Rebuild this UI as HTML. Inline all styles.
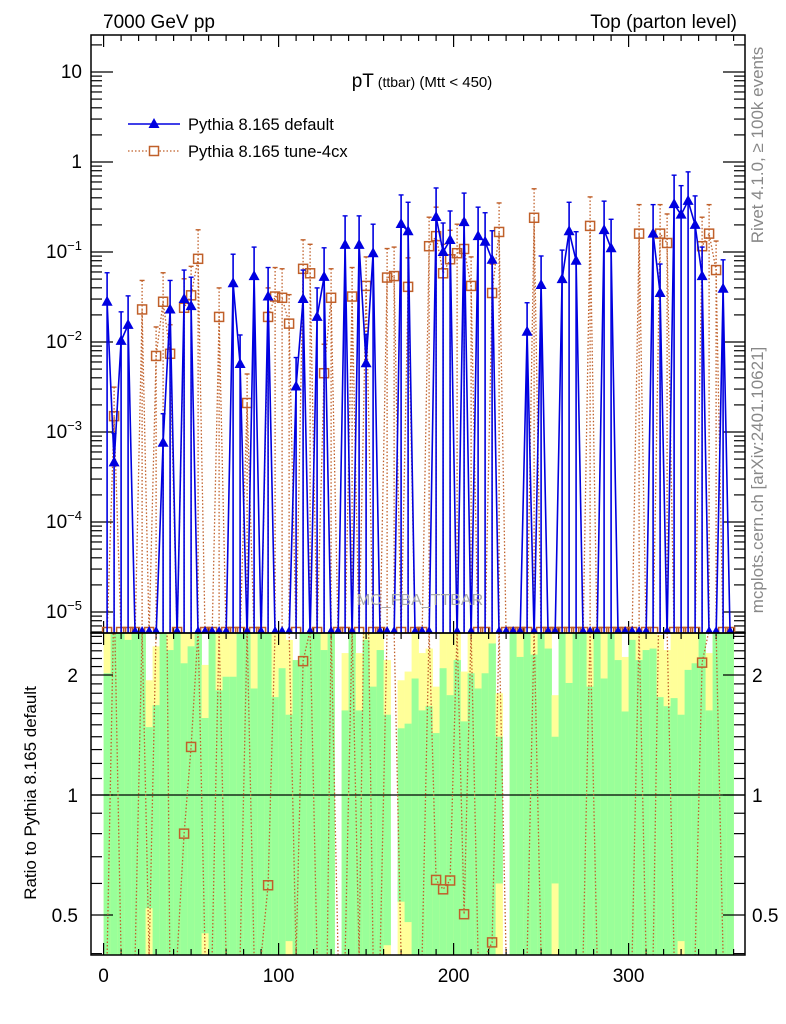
<!DOCTYPE html>
<html><head><meta charset="utf-8"><style>
html,body{margin:0;padding:0;background:#fff;width:786px;height:1024px;overflow:hidden;}
svg{display:block;font-family:"Liberation Sans",sans-serif;overflow:hidden;}
</style></head><body>
<svg id="chart" width="786" height="1024" viewBox="0 0 786 1024">
<defs>
<clipPath id="cm"><rect x="91" y="35" width="654" height="598"/></clipPath>
<clipPath id="cr"><rect x="91" y="633" width="654" height="322"/></clipPath>
</defs>
<g id="bands" clip-path="url(#cr)"></g>
<g id="ticks"></g>
<line x1="91" y1="795" x2="745" y2="795" stroke="#000" stroke-width="1.2"/>
<g id="mainSeries" clip-path="url(#cm)"></g>
<g id="ratioSeries" clip-path="url(#cr)"></g>
<rect x="91" y="35" width="654" height="598" fill="none" stroke="#000" stroke-width="1.5"/>
<rect x="91" y="633" width="654" height="322" fill="none" stroke="#000" stroke-width="1.5"/>
<text x="103" y="28" font-size="19">7000 GeV pp</text>
<text x="737" y="28" font-size="19" text-anchor="end">Top (parton level)</text>
<text x="422" y="87" text-anchor="middle"><tspan font-size="19">pT</tspan><tspan font-size="14"> (ttbar)</tspan><tspan font-size="15"> (Mtt &lt; 450)</tspan></text>
<g>
<g>
<line x1="128" y1="124" x2="180" y2="124" stroke="#0000e0" stroke-width="1.5"/>
<polygon points="154,118 148.5,128 159.5,128" fill="#0000e0"/>
<text x="188" y="130" font-size="16.5">Pythia 8.165 default</text></g>
<g>
<line x1="128" y1="151" x2="180" y2="151" stroke="#c0602a" stroke-width="1.3" stroke-dasharray="1.5,2"/>
<rect x="149.5" y="146.5" width="9" height="9" fill="#fff" stroke="#c0602a" stroke-width="1.5"/>
<text x="188" y="157" font-size="16.5">Pythia 8.165 tune-4cx</text></g>
</g>
<text x="420" y="605" font-size="16" fill="#aaa" text-anchor="middle">MC_FBA_TTBAR</text>
<text transform="translate(763,145) rotate(-90)" font-size="17" fill="#888" text-anchor="middle">Rivet 4.1.0, ≥ 100k events</text>
<text transform="translate(763,480) rotate(-90)" font-size="17" fill="#888" text-anchor="middle">mcplots.cern.ch [arXiv:2401.10621]</text>
<text transform="translate(36,793) rotate(-90)" font-size="17" text-anchor="middle">Ratio to Pythia 8.165 default</text>
<g id="labels"></g>
</svg>
<script>
const blueVals=[0.028,4.6e-4,0.0103,0.0155,0,0,0,0,7.6e-4,0.023,
0,0.030,0.025,0,0,0,0,0,0.045,0.0057,
0,0.054,0,0.032,0,0,0,0.0032,0.030,0,
0.019,0.053,0,0,0.12,0,0.12,0.0058,0.097,0,
0,0,0.205,0.17,0,0,0,0.245,0.10,0.136,
0,0.215,0,0.15,0.13,0.082,0,0,0,0,
0.013,0,0.043,0,0,0.05,0.17,0.08,0,0,
0,0.175,0.11,0,0,0,0,0,0.16,0.035,
0,0.34,0.26,0.37,0.2,0.054,0,0,0.039,0];
const redVals=[0,1.5e-3,0,0,0,0.023,0,0.007,0.028,0.0074,
0,0.024,0.033,0.084,0,0,0.019,0,0,0,
0.0021,0,0,0.019,0.032,0.031,0.016,0,0.065,0.058,
0,0.0045,0.031,0,0,0.032,0,0.042,0,0,
0.052,0.054,0,0.041,0,0,0.116,0.15,0.058,0.083,
0.097,0.108,0.042,0,0,0.035,0.167,0,0,0,
0,0.24,0,0,0,0,0,0,0,0.195,
0,0,0,0,0,0,0.16,0,0,0.16,
0.126,0,0,0,0,0.116,0.16,0.063,0,0];
const bandGreenTop=[2.02,3,3,2.45,3,3,1.48,1.68,3,2.31,
3,2.14,2.36,3,1.56,3,1.83,1.98,1.98,3,
3,1.85,3,3,1.76,2.08,1.59,2.18,3,3,
3,2.31,3,0,1.63,3,1.63,2.45,1.87,2.31,
1.59,0,1.47,1.51,1.96,1.63,1.67,1.43,2.08,1.78,
2.18,1.53,2.02,1.85,2.02,2.40,1.40,0,3,2.22,
3,2.25,3,2.33,1.40,3,1.91,3,3,1.87,
3,1.96,3,2.18,1.62,2.45,2.18,2.31,2.33,1.76,
1.67,1.75,1.59,2.06,2.14,3,1.63,3,3,3];
const bandYellowTop=[3,3,3,3,3,3,1.94,2.36,3,3,
3,3,3,3,2.12,3,3,3,3,3,
3,3,3,3,3,3,2.45,2.18,3,3,
3,3,3,0,2.27,3,2.27,3,3,3,
2.18,0,1.94,2.04,3,2.27,2.33,1.87,3,3,
3,2.04,3,3,3,3,1.80,0,3,3,
3,3,3,3,1.78,3,3,3,3,3,
3,3,3,3,2.22,3,3,3,3,2.52,
2.31,3,3,3,3,3,2.27,3,3,3];
const bandGreenLow=[0,0,0,0,0,0,0.52,0,0,0,
0,0,0,0,0.45,0,0,0,0,0,
0,0,0,0,0,0,0.43,0,0,0,
0,0,0,0,0,0,0,0,0,0,
0.42,0,0.54,0.48,0,0,0,0,0,0,
0,0,0,0,0,0,0.6,0,0,0,
0,0,0,0,0.6,0,0,0,0,0,
0,0,0,0,0,0,0,0,0,0,
0,0,0.43,0,0,0,0,0,0,0];
const xTickLabels=["0","100","200","300"];
const yMainExps=[1,0,-1,-2,-3,-4,-5];
const yRatioLabels=["0.5","1","2"];

const NS="http://www.w3.org/2000/svg";
const BW=4;
function X(u){return 103.6+1.75*u;}
function xc(i){return X(BW*i+BW/2);}
function YM(v){return v<=0?636:162-90*Math.log10(v);}
function YR(r){if(r<=0)return 957;if(!isFinite(r))return 630;return 795-120*Math.log2(r);}
function mk(tag,attrs,parent){const e=document.createElementNS(NS,tag);for(const k in attrs)e.setAttribute(k,attrs[k]);parent.appendChild(e);return e;}
const bands=document.getElementById('bands'),ticks=document.getElementById('ticks'),ms=document.getElementById('mainSeries'),rs=document.getElementById('ratioSeries'),lab=document.getElementById('labels');
const BLUE="#0000e0",RED="#c0602a";

for(let i=0;i<blueVals.length;i++){
  const x0=X(BW*i),w=1.75*BW+0.3;
  if(bandYellowTop[i]>0){
    const gl=bandGreenLow[i];
    const yt=Math.max(633,YR(bandYellowTop[i]));
    const yy=mk('rect',{x:x0,y:yt,width:w,height:955-yt,fill:'#ffff99'},bands);
    
    
    const gb=gl>0?YR(gl):955;
    const gt=Math.max(633,YR(bandGreenTop[i]));
    const gg=mk('rect',{x:x0,y:gt,width:w,height:gb-gt,fill:'#99ff99'},bands);
    
    
  }
}
function tk(x1,y1,x2,y2){mk('line',{x1,y1,x2,y2,stroke:'#000','stroke-width':1.2},ticks);}
for(let u=0;u<=360;u+=10){const x=X(u),L=(u%100===0)?12:6;
  tk(x,633,x,633-L);tk(x,35,x,35+L);tk(x,955,x,955-L);tk(x,633,x,633+L);}
for(let e=-6;e<=1;e++){for(let m=1;m<10;m++){const v=m*Math.pow(10,e),y=YM(v);if(y<35||y>633)continue;const L=m===1?22:11;tk(91,y,91+L,y);tk(745,y,745-L,y);}}
for(let r=0.4;r<=2.55;r+=0.1){const y=YR(r);if(y<634||y>954)continue;const maj=Math.abs(r-0.5)<0.01||Math.abs(r-1)<0.01||Math.abs(r-2)<0.01;const L=maj?22:11;tk(91,y,91+L,y);tk(745,y,745-L,y);}
xTickLabels.forEach(t=>{const e=mk('text',{x:X(+t),y:982,'font-size':19,'text-anchor':'middle'},lab);e.textContent=t;
  
  });
yMainExps.forEach(ex=>{const y=YM(Math.pow(10,ex))+6;const e=mk('text',{x:82,y:y,'font-size':19,'text-anchor':'end'},lab);
  
  
  if(ex===0)e.textContent='1';else if(ex===1)e.textContent='10';
  else{const a=document.createElementNS(NS,'tspan');a.textContent='10';e.appendChild(a);const b=document.createElementNS(NS,'tspan');b.setAttribute('font-size','13');b.setAttribute('dy','-8');b.textContent='−'+(-ex);e.appendChild(b);}});
yRatioLabels.forEach(t=>{const y=YR(+t)+7;
  const a=mk('text',{x:78,y:y,'font-size':19,'text-anchor':'end'},lab);a.textContent=t;
  
  
  const b=mk('text',{x:752,y:y,'font-size':19},lab);b.textContent=t;
  
  });

function series(vals,color,dash,marker,name){
  const g=mk('g',{},ms);
  
  
  const pts=vals.map((v,i)=>xc(i).toFixed(1)+','+YM(v).toFixed(1)).join(' ');
  const pl=mk('polyline',{points:pts,fill:'none',stroke:color,'stroke-width':dash?1.3:1.6,'stroke-dasharray':dash||'none'},g);
  
  
  vals.forEach((v,i)=>{const x=xc(i);
    if(v>0){const up=YM(v*2.1);
      mk('line',{x1:x,y1:up,x2:x,y2:636,stroke:color,'stroke-width':dash?1.3:1.6,'stroke-dasharray':dash||'none'},g);
      mk('line',{x1:x-2.5,y1:up,x2:x+2.5,y2:up,stroke:color,'stroke-width':1.4},g);}
    const y=v>0?YM(v):632;
    let m;
    if(marker==='tri')m=mk('polygon',{points:`${x},${y-6} ${x-5.5},${y+4} ${x+5.5},${y+4}`,fill:color},g);
    else m=mk('rect',{x:x-4.5,y:y-4.5,width:9,height:9,fill:'none',stroke:color,'stroke-width':1.5},g);
    
    
  });
}
series(redVals,RED,'1.5,2','sq','tune-4cx-series');
series(blueVals,BLUE,null,'tri','default-series');

const ratios=blueVals.map((b,i)=>{const r=redVals[i];if(b>0&&r>0)return r/b;if(r>0)return Infinity;return 0;});
const rg=mk('g',{},rs);


const rl=mk('polyline',{points:ratios.map((r,i)=>xc(i).toFixed(1)+','+YR(r).toFixed(1)).join(' '),fill:'none',stroke:RED,'stroke-width':1.3,'stroke-dasharray':'1.5,2'},rg);


ratios.forEach((r,i)=>{if(r>0&&isFinite(r)){const y=YR(r);if(y<633||y>955)return;const x=xc(i);
  const m=mk('rect',{x:x-4.5,y:y-4.5,width:9,height:9,fill:'none',stroke:RED,'stroke-width':1.5},rg);
  
  }});
</script>
</body></html>
